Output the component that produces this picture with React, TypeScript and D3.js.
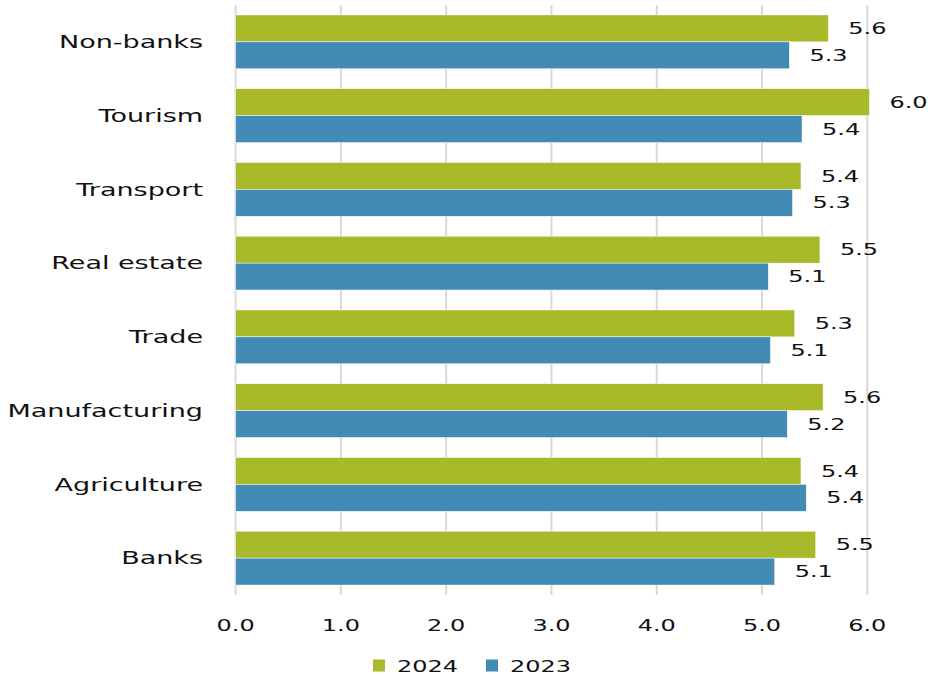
import React from "react";
import * as d3 from "d3";

const categories = ["Non-banks", "Tourism", "Transport", "Real estate", "Trade", "Manufacturing", "Agriculture", "Banks"];
const values2024 = [5.63, 6.02, 5.37, 5.55, 5.31, 5.58, 5.37, 5.51];
const values2023 = [5.26, 5.38, 5.29, 5.06, 5.08, 5.24, 5.42, 5.12];
const seriesNames = ["2024", "2023"];
const seriesColors = ["#A8B92A", "#428BB5"];
const xTicks = [0, 1, 2, 3, 4, 5, 6];

const W = 928;
const H = 675;
const margin = { left: 235.6, right: 60.7, top: 5, bottom: 80 };
const FONT = "DejaVu Sans, Verdana, sans-serif";
const SX = 1.5;

function T({ x, y, size, anchor = "start", children }: { x: number; y: number; size: number; anchor?: string; children: React.ReactNode }) {
  return (
    <text transform={`translate(${x},${y}) scale(${SX},1)`} dy="0.35em" textAnchor={anchor} fontSize={size} fill="#111">
      {children}
    </text>
  );
}

export default function App() {
  const x = d3.scaleLinear().domain([0, 6]).range([margin.left, W - margin.right]);
  const y = d3.scaleBand().domain(categories).range([margin.top, H - margin.bottom]).paddingInner(0.27).paddingOuter(0.135);
  const sub = d3.scaleBand().domain(seriesNames).range([0, y.bandwidth()]);
  const series = [values2024, values2023];
  const fmt = d3.format(".1f");
  const plotTop = margin.top;
  const plotBottom = H - margin.bottom;

  return (
    <svg width={W} height={H} style={{ position: "absolute", left: 0, top: 0, background: "#fff" }} fontFamily={FONT}>
      {xTicks.map((t) => (
        <line key={"g" + t} x1={x(t)} x2={x(t)} y1={plotTop} y2={plotBottom} stroke="#D9D9D9" strokeWidth={2} />
      ))}
      {categories.map((c, i) => (
        <g key={c}>
          {series.map((vals, s) => {
            const y0 = (y(c) as number) + (sub(seriesNames[s]) as number);
            return (
              <g key={s}>
                <rect x={x(0)} y={y0} width={x(vals[i]) - x(0)} height={sub.bandwidth()} fill={seriesColors[s]} stroke="#fff" strokeWidth={0.5} />
                <T x={x(vals[i]) + 20} y={y0 + sub.bandwidth() / 2} size={16}>
                  {fmt(vals[i])}
                </T>
              </g>
            );
          })}
          <T x={203} y={(y(c) as number) + y.bandwidth() / 2} size={18} anchor="end">
            {c}
          </T>
        </g>
      ))}
      {xTicks.map((t) => (
        <T key={"t" + t} x={x(t)} y={625} size={16} anchor="middle">
          {fmt(t)}
        </T>
      ))}
      {seriesNames.map((n, s) => (
        <g key={n} transform={`translate(${373 + s * 113},659.5)`}>
          <rect x={0} y={0} width={12} height={12} fill={seriesColors[s]} />
          <T x={24} y={6.5} size={16}>{n}</T>
        </g>
      ))}
    </svg>
  );
}
